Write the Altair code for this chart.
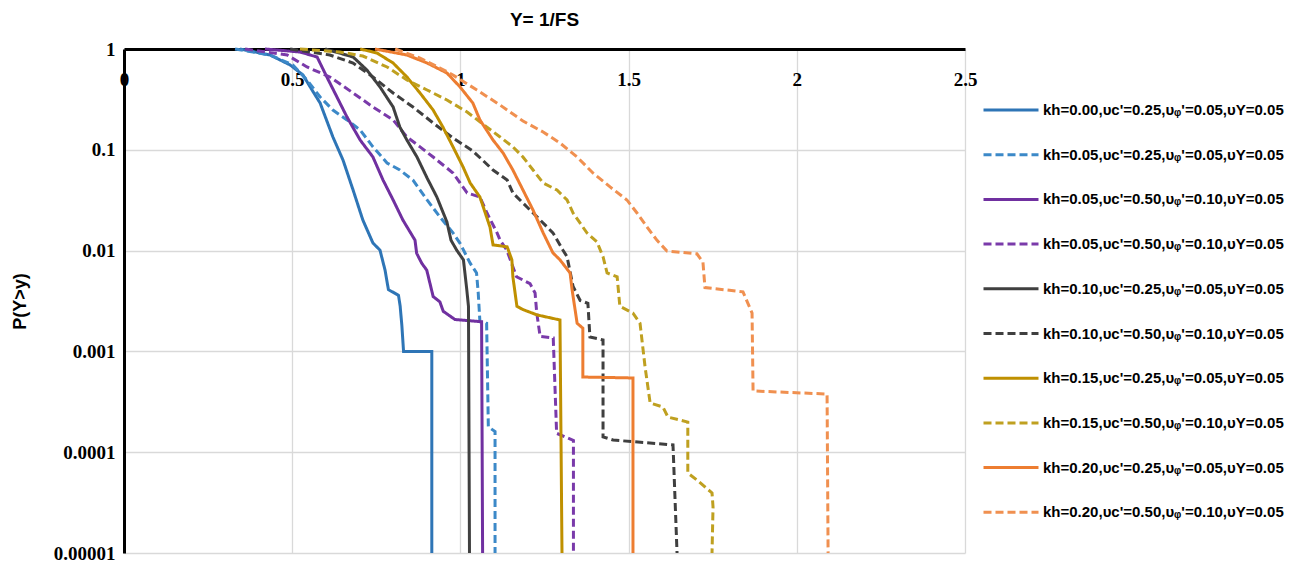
import altair as alt
import pandas as pd

# ---- series labels (legend text) ----
labels = [
    "kh=0.00,υc'=0.25,υᵩ'=0.05,υY=0.05",
    "kh=0.05,υc'=0.25,υᵩ'=0.05,υY=0.05",
    "kh=0.05,υc'=0.50,υᵩ'=0.10,υY=0.05",
    "kh=0.05,υc'=0.50,υᵩ'=0.10,υY=0.05\u200b",
    "kh=0.10,υc'=0.25,υᵩ'=0.05,υY=0.05",
    "kh=0.10,υc'=0.50,υᵩ'=0.10,υY=0.05",
    "kh=0.15,υc'=0.25,υᵩ'=0.05,υY=0.05",
    "kh=0.15,υc'=0.50,υᵩ'=0.10,υY=0.05",
    "kh=0.20,υc'=0.25,υᵩ'=0.05,υY=0.05",
    "kh=0.20,υc'=0.50,υᵩ'=0.10,υY=0.05",
]
colors = ["#2E75B6", "#3C89C8", "#7030A0", "#7A3AAA", "#404040",
          "#3F3F3F", "#BF9000", "#BFA020", "#ED7D31", "#F09050"]
dashes = [[1, 0], [8, 4], [1, 0], [8, 4], [1, 0],
          [8, 4], [1, 0], [8, 4], [1, 0], [8, 4]]

# ---- curve values (Y = 1/FS, P(Y>y)) ----
x1 = [0.345, 0.434, 0.494, 0.532, 0.559, 0.583, 0.621, 0.651, 0.681, 0.710, 0.740, 0.761, 0.776, 0.786, 0.816, 0.821, 0.826, 0.831, 0.915, 0.915]
p1 = [1, 0.872, 0.694, 0.552, 0.392, 0.291, 0.134, 0.0792, 0.0399, 0.0201, 0.0119, 0.0101, 0.0064, 0.0041, 0.0036, 0.0028, 0.0018, 0.001, 0.001, 0.00001]

x2 = [0.330, 0.434, 0.502, 0.544, 0.583, 0.621, 0.663, 0.702, 0.740, 0.782, 0.820, 0.859, 0.901, 0.939, 0.978, 0.999, 1.029, 1.048, 1.053, 1.058, 1.078, 1.083, 1.103, 1.103]
p2 = [1, 0.872, 0.694, 0.493, 0.334, 0.248, 0.198, 0.157, 0.107, 0.074, 0.063, 0.050, 0.0318, 0.0216, 0.0150, 0.0118, 0.0075, 0.0060, 0.0038, 0.00197, 0.0019, 0.000179, 0.00016, 0.00001]

x3 = [0.419, 0.523, 0.574, 0.603, 0.633, 0.663, 0.702, 0.740, 0.770, 0.800, 0.829, 0.865, 0.870, 0.885, 0.900, 0.919, 0.939, 0.949, 0.984, 1.063, 1.066]
p3 = [1, 0.934, 0.833, 0.528, 0.334, 0.211, 0.125, 0.0848, 0.0501, 0.0318, 0.0201, 0.0127, 0.0094, 0.0075, 0.0064, 0.0035, 0.0031, 0.0025, 0.00207, 0.00197, 0.00001]

x4 = [0.360, 0.485, 0.544, 0.612, 0.681, 0.740, 0.800, 0.841, 0.880, 0.919, 0.978, 1.020, 1.058, 1.079, 1.109, 1.118, 1.138, 1.167, 1.207, 1.222, 1.227, 1.237, 1.276, 1.286, 1.336, 1.336]
p4 = [1, 0.872, 0.663, 0.528, 0.366, 0.266, 0.198, 0.134, 0.107, 0.0848, 0.0589, 0.0373, 0.0340, 0.0236, 0.0150, 0.0127, 0.0101, 0.0055, 0.0047, 0.0038, 0.0024, 0.00141, 0.00136, 0.000154, 0.000131, 0.00001]

x5 = [0.598, 0.681, 0.722, 0.761, 0.800, 0.820, 0.841, 0.871, 0.901, 0.930, 0.960, 0.972, 0.989, 1.009, 1.019, 1.024, 1.027]
p5 = [1, 0.833, 0.619, 0.420, 0.266, 0.168, 0.125, 0.0848, 0.0525, 0.0340, 0.0192, 0.0127, 0.0101, 0.0081, 0.0041, 0.0028, 0.00001]

x6 = [0.494, 0.612, 0.681, 0.740, 0.800, 0.859, 0.919, 0.978, 1.037, 1.097, 1.139, 1.156, 1.198, 1.237, 1.275, 1.305, 1.317, 1.335, 1.356, 1.379, 1.385, 1.424, 1.424, 1.454, 1.632, 1.644]
p6 = [1, 0.872, 0.726, 0.528, 0.366, 0.266, 0.1845, 0.131, 0.0973, 0.0630, 0.0501, 0.0373, 0.0271, 0.0201, 0.0150, 0.0101, 0.0087, 0.0044, 0.0032, 0.0030, 0.00139, 0.0013, 0.000142, 0.000132, 0.000118, 0.00001]

x7 = [0.702, 0.752, 0.800, 0.841, 0.880, 0.919, 0.948, 0.978, 1.008, 1.029, 1.058, 1.088, 1.097, 1.139, 1.153, 1.156, 1.168, 1.186, 1.228, 1.296, 1.302]
p7 = [1, 0.913, 0.726, 0.528, 0.366, 0.248, 0.168, 0.107, 0.0675, 0.0469, 0.0340, 0.0171, 0.0114, 0.0109, 0.0081, 0.0055, 0.0028, 0.0026, 0.0023, 0.00205, 0.00001]

x8 = [0.523, 0.642, 0.710, 0.782, 0.841, 0.901, 0.960, 1.020, 1.079, 1.118, 1.156, 1.186, 1.216, 1.246, 1.287, 1.317, 1.335, 1.376, 1.406, 1.424, 1.436, 1.466, 1.474, 1.513, 1.534, 1.549, 1.564, 1.602, 1.617, 1.676, 1.676, 1.703, 1.748, 1.751, 1.748]
p8 = [1, 0.934, 0.852, 0.663, 0.493, 0.392, 0.312, 0.237, 0.168, 0.134, 0.107, 0.0848, 0.063, 0.0469, 0.0399, 0.0318, 0.0236, 0.0150, 0.0122, 0.0087, 0.0060, 0.0055, 0.0028, 0.0024, 0.0019, 0.0007, 0.000308, 0.000281, 0.000223, 0.000199, 0.0000622, 0.000053, 0.0000394, 0.0000286, 0.00001]

x9 = [0.746, 0.841, 0.901, 0.960, 0.999, 1.037, 1.058, 1.097, 1.127, 1.156, 1.186, 1.216, 1.246, 1.275, 1.296, 1.326, 1.332, 1.347, 1.364, 1.364, 1.513, 1.513]
p9 = [1, 0.872, 0.726, 0.578, 0.420, 0.291, 0.198, 0.125, 0.0929, 0.063, 0.0399, 0.0252, 0.0150, 0.0095, 0.0081, 0.0060, 0.0041, 0.0019, 0.0017, 0.000557, 0.000545, 0.00001]

x10 = [0.806, 0.880, 0.939, 0.978, 1.049, 1.118, 1.186, 1.246, 1.296, 1.347, 1.394, 1.445, 1.495, 1.525, 1.555, 1.584, 1.614, 1.703, 1.721, 1.727, 1.840, 1.867, 1.870, 2.090, 2.093]
p10 = [1, 0.814, 0.648, 0.552, 0.392, 0.278, 0.193, 0.150, 0.117, 0.0848, 0.0589, 0.0428, 0.0318, 0.0236, 0.0171, 0.0127, 0.0099, 0.0093, 0.0077, 0.0043, 0.0039, 0.0024, 0.000405, 0.000378, 0.00001]

x_ticks = [0, 0.5, 1, 1.5, 2, 2.5]
y_ticks = [1, 0.1, 0.01, 0.001, 0.0001, 0.00001]

series_x = [x1, x2, x3, x4, x5, x6, x7, x8, x9, x10]
series_p = [p1, p2, p3, p4, p5, p6, p7, p8, p9, p10]

rows = []
for lab, xs, ps in zip(labels, series_x, series_p):
    for i, (xv, pv) in enumerate(zip(xs, ps)):
        rows.append({"series": lab, "x": xv, "p": pv, "i": i})
df = pd.DataFrame(rows)

legend = alt.Legend(
    title=None, orient="none", legendX=858, legendY=32,
    symbolType="stroke", symbolSize=3025, symbolStrokeWidth=3,
    labelFont="Liberation Sans", labelFontSize=15, labelFontWeight="bold",
    labelColor="black", labelLimit=400, rowPadding=7.7, labelOffset=3,
)

chart = alt.Chart(df).mark_line(strokeWidth=3).encode(
    x=alt.X("x:Q", scale=alt.Scale(domain=[0, 2.5], nice=False, zero=False),
            axis=alt.Axis(orient="top", values=x_ticks, format="~g", title=None,
                          ticks=False, tickSize=0, labelPadding=-30, labelBaseline="middle",
                          labelFont="Liberation Serif", labelFontWeight="bold", labelFontSize=19,
                          labelColor="black", labelFlush=False, labelOverlap=False,
                          domainColor="black", domainWidth=3,
                          grid=True, gridColor="#d9d9d9", gridWidth=1.3)),
    y=alt.Y("p:Q", scale=alt.Scale(type="log", domain=[0.00001, 1], nice=False),
            axis=alt.Axis(values=y_ticks, format="~f", title="P(Y>y)",
                          ticks=False, tickSize=0, labelPadding=9,
                          labelFont="Liberation Serif", labelFontWeight="bold", labelFontSize=19,
                          labelColor="black", labelFlush=False, labelOverlap=False,
                          domainColor="black", domainWidth=3,
                          grid=True, gridColor="#d9d9d9", gridWidth=1.3,
                          titleFont="Liberation Sans", titleFontWeight="bold", titleFontSize=18,
                          titleColor="black", titleX=-104, titleY=252, titleAngle=270,
                          titleAlign="center", titleBaseline="middle")),
    color=alt.Color("series:N", scale=alt.Scale(domain=labels, range=colors), legend=legend),
    strokeDash=alt.StrokeDash("series:N", scale=alt.Scale(domain=labels, range=dashes), legend=legend),
    order="i:Q",
).properties(
    width=841, height=504,
    title=alt.TitleParams("Y= 1/FS", frame="group", anchor="middle", offset=10,
                          font="Liberation Sans", fontWeight="bold", fontSize=19, color="black"),
    padding={"left": 116, "top": 41, "right": 320, "bottom": 12},
    autosize=alt.AutoSizeParams(type="none"),
).configure_view(stroke=None)

chart.save("out.html", embed_options={"renderer": "svg", "actions": False})
